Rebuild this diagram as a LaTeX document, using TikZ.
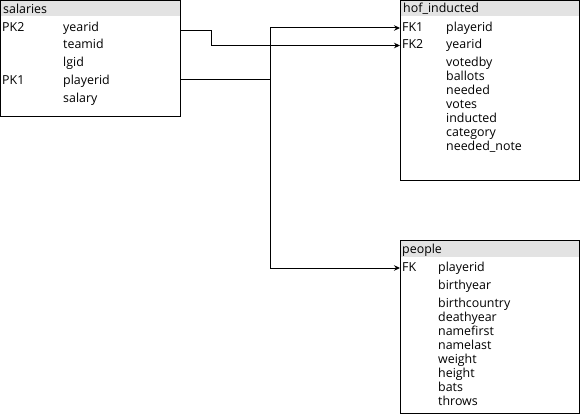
\documentclass[tikz,border=0pt]{standalone}
\usepackage{fontspec}
\setmainfont{Open Sans}
\usetikzlibrary{arrows.meta}
\definecolor{hdrgray}{HTML}{E3E3E3}
\begin{document}
\begin{tikzpicture}[x=1pt,y=-1pt,
  font=\fontsize{12.4}{14}\selectfont,
  tbl/.style={draw=black, line width=1pt, anchor=north west, inner sep=0pt, outer sep=0pt},
  hdr/.style={fill=hdrgray, anchor=north west, inner sep=0pt, outer sep=0pt, minimum height=16pt},
  lbl/.style={anchor=west, inner sep=0pt, text height=9pt, text depth=3pt, yshift=-1.5pt},
  wire/.style={draw=black, line width=1pt},
  conn/.style={wire, -{Stealth[length=6pt,width=5.5pt]}}]
\useasboundingbox (0,0) rectangle (581,417);

% salaries
\node[hdr, minimum width=180pt] (salhdr) at (0.5,0.5) {};
\node[tbl, minimum width=180pt, minimum height=116pt] (salaries) at (0.5,0.5) {};
\node[lbl] (saltitle) at (3,9) {salaries};
\node[lbl] (spk2) at (2,27) {PK2};
\node[lbl] (syear) at (63,27) {yearid};
\node[lbl] (steam) at (63,44.5) {teamid};
\node[lbl] (slg) at (63,62) {lgid};
\node[lbl] (spk1) at (2,80) {PK1};
\node[lbl] (splayer) at (63,80) {playerid};
\node[lbl] (ssal) at (63,98.5) {salary};

% hof_inducted
\node[hdr, minimum width=179pt] (hofhdr) at (400.5,0.5) {};
\node[tbl, minimum width=179pt, minimum height=179.5pt] (hof) at (400.5,0.5) {};
\node[lbl] (hoftitle) at (403,8.5) {hof\_inducted};
\node[lbl] (hfk1) at (402,27) {FK1};
\node[lbl] (hplayer) at (446,27) {playerid};
\node[lbl] (hfk2) at (402,44.5) {FK2};
\node[lbl] (hyear) at (446,44.5) {yearid};
\node[lbl] (hvoted) at (446,62.5) {votedby};
\node[lbl] (hballots) at (446,76.5) {ballots};
\node[lbl] (hneeded) at (446,90.5) {needed};
\node[lbl] (hvotes) at (446,104.5) {votes};
\node[lbl] (hind) at (446,118.5) {inducted};
\node[lbl] (hcat) at (446,132.5) {category};
\node[lbl] (hnote) at (446,146.5) {needed\_note};

% people
\node[hdr, minimum width=179pt] (pplhdr) at (400.5,240.5) {};
\node[tbl, minimum width=179pt, minimum height=173pt] (people) at (400.5,240.5) {};
\node[lbl] (ppltitle) at (402,248.5) {people};
\node[lbl] (pfk) at (402,266.5) {FK};
\node[lbl] (pplayer) at (438,266.5) {playerid};
\node[lbl] (pbyear) at (438,284.5) {birthyear};
\node[lbl] (pbcountry) at (438,302.5) {birthcountry};
\node[lbl] (pdyear) at (438,316.5) {deathyear};
\node[lbl] (pfirst) at (438,330.5) {namefirst};
\node[lbl] (plast) at (438,344.5) {namelast};
\node[lbl] (pweight) at (438,358.5) {weight};
\node[lbl] (pheight) at (438,372.5) {height};
\node[lbl] (pbats) at (438,386.5) {bats};
\node[lbl] (pthrows) at (438,400.5) {throws};

% connection points
\coordinate (c1s) at (181,31);
\coordinate (c1e) at (400,45.5);
\coordinate (c2s) at (181,80);
\coordinate (j) at (270.5,80);
\coordinate (h1e) at (400,28);
\coordinate (p1e) at (400,268);

\draw[conn] (c1s) -- ++(30,0) |- (c1e);
\draw[wire] (c2s) -- (j);
\draw[conn] (j) |- (h1e);
\draw[conn] (j) |- (p1e);
\end{tikzpicture}
\end{document}
